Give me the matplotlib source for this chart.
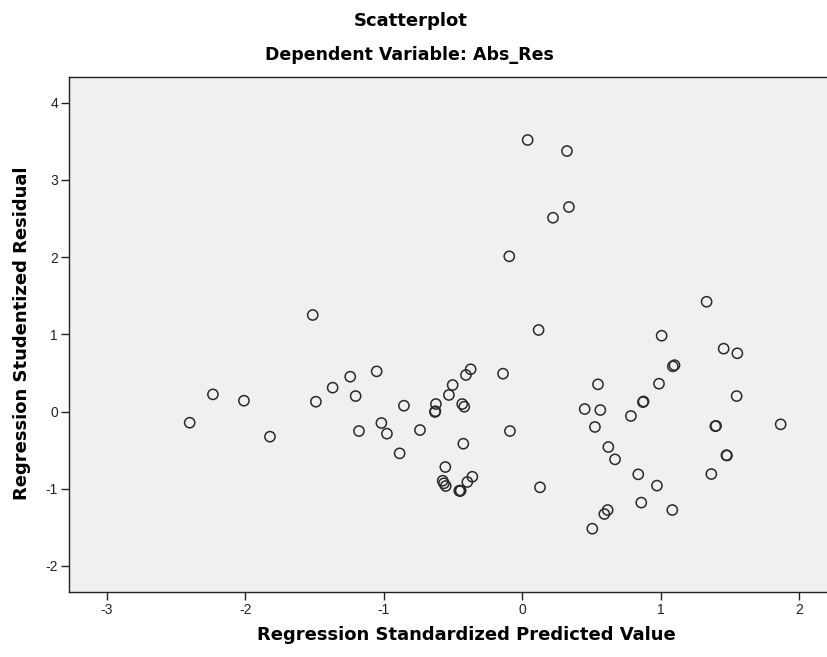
import matplotlib
matplotlib.use("Agg")
import matplotlib.pyplot as plt

# Data
pred_x = [-2.403, -2.235, -2.011, -1.823, -1.514, -1.491, -1.370, -1.243, -1.204, -1.180,
          -1.052, -1.018, -0.978, -0.886, -0.855, -0.739, -0.631, -0.628, -0.624, -0.556,
          -0.575, -0.566, -0.553, -0.530, -0.503, -0.455, -0.450, -0.445, -0.434, -0.426,
          -0.419, -0.407, -0.397, -0.373, -0.361, -0.139, -0.094, -0.089, 0.039, 0.118,
          0.128, 0.222, 0.323, 0.337, 0.451, 0.506, 0.525, 0.547, 0.564, 0.593,
          0.617, 0.622, 0.670, 0.785, 0.838, 0.860, 0.872, 0.876, 0.973, 0.988,
          1.007, 1.084, 1.088, 1.100, 1.332, 1.366, 1.395, 1.400, 1.455, 1.475,
          1.479, 1.549, 1.554, 1.867]
resid_y = [-0.145, 0.222, 0.140, -0.326, 1.250, 0.127, 0.309, 0.451, 0.200, -0.253,
           0.520, -0.149, -0.287, -0.542, 0.075, -0.240, -0.006, 0.004, 0.097, -0.719,
           -0.896, -0.930, -0.965, 0.214, 0.343, -1.026, -1.030, -1.024, 0.097, -0.417,
           0.062, 0.473, -0.913, 0.547, -0.845, 0.490, 2.010, -0.253, 3.517, 1.056,
           -0.982, 2.510, 3.374, 2.649, 0.032, -1.518, -0.200, 0.352, 0.019, -1.328,
           -1.276, -0.460, -0.620, -0.058, -0.814, -1.180, 0.122, 0.130, -0.960, 0.360,
           0.982, -1.276, 0.585, 0.600, 1.422, -0.810, -0.190, -0.186, 0.814, -0.566,
           -0.570, 0.200, 0.754, -0.166]

x_ticks = [-3, -2, -1, 0, 1, 2]
y_ticks = [-2, -1, 0, 1, 2, 3, 4]

title_main = "Scatterplot"
title_sub = "Dependent Variable: Abs_Res"
x_label = "Regression Standardized Predicted Value"
y_label = "Regression Studentized Residual"

plt.rcParams['font.family'] = ['Liberation Sans', 'DejaVu Sans']
label_font = ['DejaVu Sans']

W, H = 827, 657
fig = plt.figure(figsize=(W / 100, H / 100), dpi=100)
fig.patch.set_facecolor('white')

left, right, top, bottom = 69, 828, 77, 592
ax = fig.add_axes([left / W, (H - bottom) / H, (right - left) / W, (bottom - top) / H])
ax.set_facecolor('#F0F0F0')

ax.scatter(pred_x, resid_y, s=54, facecolors='none', edgecolors='#2a2a2a', linewidths=1.1, zorder=3)

ax.set_xlim(-3.275, 2.209)
ax.set_ylim(-2.338, 4.333)
ax.set_xticks(x_ticks)
ax.set_yticks(y_ticks)
ax.set_xticklabels([str(t) for t in x_ticks])
ax.set_yticklabels([str(t) for t in y_ticks])
ax.tick_params(axis='both', direction='out', length=6, width=1, colors='#222222',
               labelsize=10, pad=2)

for s in ['left', 'bottom', 'top']:
    ax.spines[s].set_color('#222222')
    ax.spines[s].set_linewidth(1.0)
ax.spines['right'].set_visible(False)

fig.text(466 / W, 1 - 635 / H, x_label, ha='center', va='center', fontsize=13,
         fontweight='bold', family=label_font)
fig.text(22 / W, 1 - 333 / H, y_label, ha='center', va='center', rotation=90, fontsize=13,
         fontweight='bold', family=label_font)

fig.text(411 / W, 1 - 26 / H, title_main, ha='center', va='baseline', fontsize=13,
         fontweight='bold', family=label_font)
fig.text(409 / W, 1 - 60 / H, title_sub, ha='center', va='baseline', fontsize=12.5,
         fontweight='bold', family=label_font)

fig.savefig('out.png', dpi=100)
